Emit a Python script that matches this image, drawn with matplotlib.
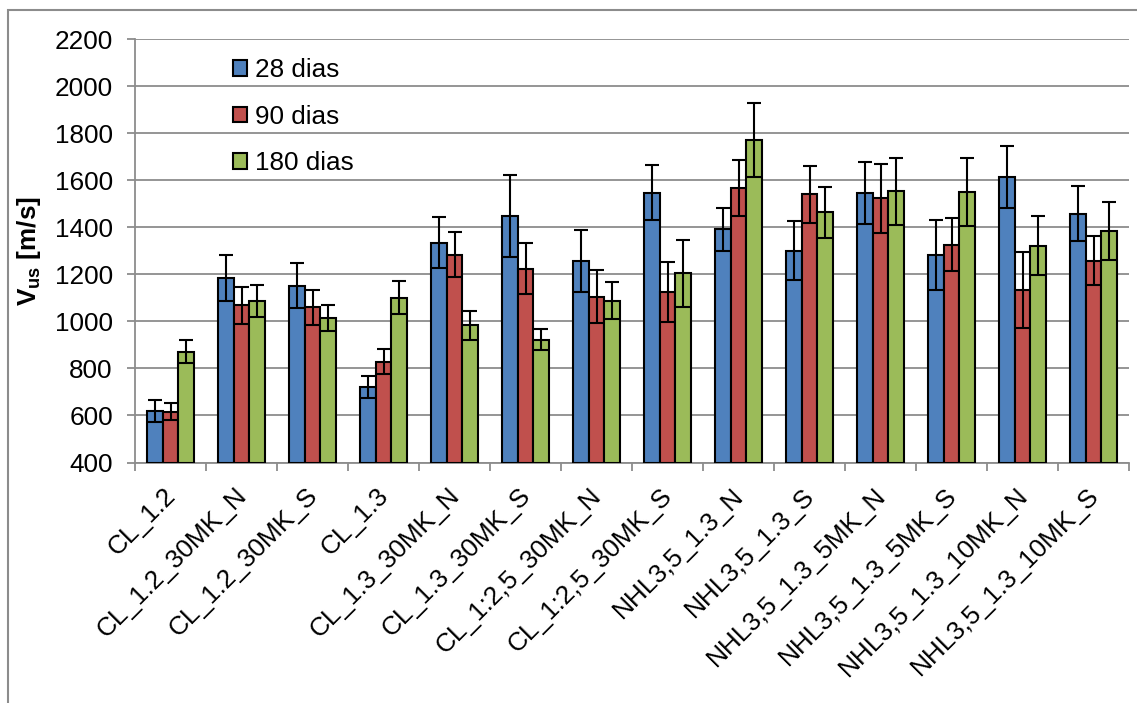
import numpy as np
import matplotlib
matplotlib.use("Agg")
import matplotlib.pyplot as plt
from matplotlib.patches import Rectangle

plt.rcParams["font.family"] = ["Liberation Sans", "DejaVu Sans"]
plt.rcParams["mathtext.fontset"] = "custom"
plt.rcParams["mathtext.rm"] = "Liberation Sans"
plt.rcParams["mathtext.bf"] = "Liberation Sans:bold"

# categorias
categorias = ["CL_1.2", "CL_1.2_30MK_N", "CL_1.2_30MK_S", "CL_1.3",
              "CL_1.3_30MK_N", "CL_1.3_30MK_S", "CL_1:2,5_30MK_N",
              "CL_1:2,5_30MK_S", "NHL3,5_1.3_N", "NHL3,5_1.3_S",
              "NHL3,5_1.3_5MK_N", "NHL3,5_1.3_5MK_S", "NHL3,5_1.3_10MK_N",
              "NHL3,5_1.3_10MK_S"]

# valores medios (m/s)
v28 = [618, 1186, 1152, 722, 1335, 1447, 1258, 1548, 1392, 1301, 1548, 1281, 1614, 1458]
v90 = [616, 1068, 1060, 829, 1284, 1224, 1106, 1125, 1567, 1540, 1523, 1326, 1135, 1258]
v180 = [871, 1087, 1014, 1101, 983, 923, 1089, 1204, 1773, 1464, 1553, 1552, 1322, 1384]

# desvios (barras de error)
e28 = [47, 98, 95, 47, 109, 175, 133, 116, 92, 126, 132, 149, 131, 117]
e90 = [35, 80, 74, 54, 97, 108, 111, 128, 120, 122, 148, 113, 161, 105]
e180 = [48, 68, 56, 69, 60, 45, 80, 142, 158, 108, 142, 145, 126, 124]

series = [("28 dias", v28, e28, "#4F81BD"),
          ("90 dias", v90, e90, "#C0504D"),
          ("180 dias", v180, e180, "#9BBB59")]

fs = 18.8
fig = plt.figure(figsize=(11.37, 7.03), dpi=100)
W, H = 1137, 703
ax = fig.add_axes([135 / W, 1 - 462.5 / H, (1129 - 135) / W, (462.5 - 39.3) / H])

x = np.arange(len(categorias))
ancho = 0.225
for k, (nombre, vals, errs, col) in enumerate(series):
    ax.bar(x + (k - 1) * ancho, np.array(vals) - 400, bottom=400, width=ancho,
           color=col, edgecolor="black", linewidth=1.5, label=nombre, zorder=3,
           yerr=errs, error_kw=dict(ecolor="black", elinewidth=1.5,
                                    capsize=5, capthick=1.5, zorder=4))

gris = "#8C8C8C"
ax.set_ylim(400, 2200)
ax.set_xlim(-0.5, len(categorias) - 0.5)
ax.set_yticks(range(400, 2201, 200))
ax.grid(axis="y", color=gris, linewidth=1.3, zorder=0)
ax.set_axisbelow(True)
for s in ["top", "right"]:
    ax.spines[s].set_visible(False)
for s in ["left", "bottom"]:
    ax.spines[s].set_color(gris)
    ax.spines[s].set_linewidth(1.3)

# las etiquetas van un poco corridas a la izquierda del centro (ticks sin largo)
ax.set_xticks(x - 0.1)
ax.set_xticklabels(categorias, rotation=45, ha="right", va="top",
                   rotation_mode="anchor", fontsize=fs)
ax.set_xticks(np.arange(-0.5, len(categorias)), minor=True)
ax.tick_params(axis="x", which="major", length=0, pad=15)
ax.tick_params(axis="x", which="minor", length=6, color=gris, width=1.3)
ax.tick_params(axis="y", length=6, color=gris, width=1.3, labelsize=fs, pad=10)

ax.set_ylabel(r"$\mathbf{V_{us}}$ [m/s]", fontsize=fs, fontweight="bold", labelpad=8)

ax.legend(loc="upper left", bbox_to_anchor=(0.0986, 0.955), frameon=False,
          fontsize=fs, handlelength=0.55, handleheight=0.55, handletextpad=0.3,
          labelspacing=0.86, borderpad=0, borderaxespad=0)

# marco exterior del grafico
fig.patches.append(Rectangle((7.5 / W, -0.05), 1.05, 1 - 10 / H + 0.05,
                             transform=fig.transFigure, fill=False,
                             edgecolor=gris, linewidth=1.5))

fig.savefig("out.png", dpi=100)
